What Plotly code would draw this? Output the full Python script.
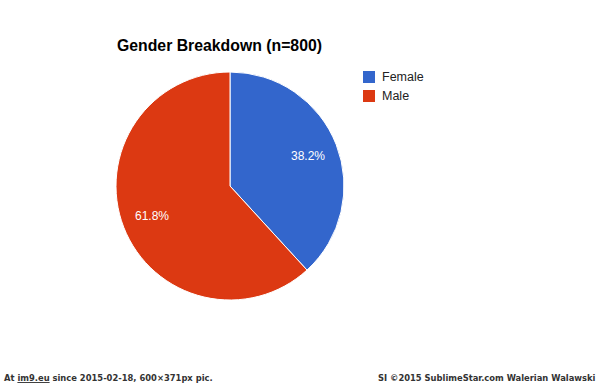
import math
import plotly.graph_objects as go

categories = ["Female", "Male"]
values = [38.2, 61.8]
colors = ["#3366cc", "#dc3912"]
title_text = "Gender Breakdown (n=800)"
footer_left = "At <u>im9.eu</u> since 2015-02-18, 600×371px pic."
footer_right = "SI ©2015 SublimeStar.com Walerian Walawski"

W, H = 600, 383
CX, CY, R = 230, 186, 114


def px(x):
    return x / W


def py(y):
    return 1 - y / H


fig = go.Figure(go.Pie(
    labels=categories,
    values=values,
    marker=dict(colors=colors, line=dict(color="white", width=1)),
    sort=False,
    direction="clockwise",
    rotation=0,
    textinfo="none",
    domain=dict(x=[px(CX - R), px(CX + R)], y=[py(CY + R), py(CY - R)]),
    showlegend=False,
    hoverinfo="label+percent",
))

shapes = []
annotations = []

# slice labels placed along each slice's mid-angle
total = sum(values)
start = 0.0
for v in values:
    frac = v / total
    mid = (start + frac / 2) * 2 * math.pi
    start += frac
    lx = CX + 0.73 * R * math.sin(mid)
    ly = CY - 0.73 * R * math.cos(mid)
    annotations.append(dict(text=f"{100 * frac:.1f}%", xref="paper", yref="paper",
                            x=px(lx), y=py(ly), xanchor="center", yanchor="middle",
                            showarrow=False,
                            font=dict(family="Liberation Sans, Arial", size=12, color="white")))

for i, (cat, col) in enumerate(zip(categories, colors)):
    y0 = 71 + i * 19
    shapes.append(dict(type="rect", xref="paper", yref="paper",
                       x0=px(363), x1=px(375), y0=py(y0 + 12), y1=py(y0),
                       fillcolor=col, line=dict(width=0)))
    annotations.append(dict(text=cat, xref="paper", yref="paper",
                            x=px(380), y=py(y0 + 6), xanchor="left", yanchor="middle",
                            showarrow=False,
                            font=dict(family="Liberation Sans, Arial", size=12.5, color="#222222")))

annotations.append(dict(text="<b>" + title_text + "</b>", xref="paper", yref="paper",
                        x=px(115), y=py(45), xanchor="left", yanchor="middle", showarrow=False,
                        font=dict(family="Liberation Sans, Arial", size=15.8, color="#000000")))
annotations.append(dict(text="<b>" + footer_left + "</b>", xref="paper", yref="paper",
                        x=px(2), y=py(377), xanchor="left", yanchor="middle", showarrow=False,
                        font=dict(family="DejaVu Sans Condensed, DejaVu Sans", size=9.3, color="#333333")))
annotations.append(dict(text="<b>" + footer_right + "</b>", xref="paper", yref="paper",
                        x=px(598), y=py(377), xanchor="right", yanchor="middle", showarrow=False,
                        font=dict(family="DejaVu Sans Condensed, DejaVu Sans", size=9.3, color="#333333")))

fig.update_layout(
    width=W, height=H,
    margin=dict(l=0, r=0, t=0, b=0),
    paper_bgcolor="white",
    plot_bgcolor="white",
    shapes=shapes,
    annotations=annotations,
)

fig.write_html("out.html", config={"displayModeBar": False},
               post_script="document.body.style.margin='0px';")
